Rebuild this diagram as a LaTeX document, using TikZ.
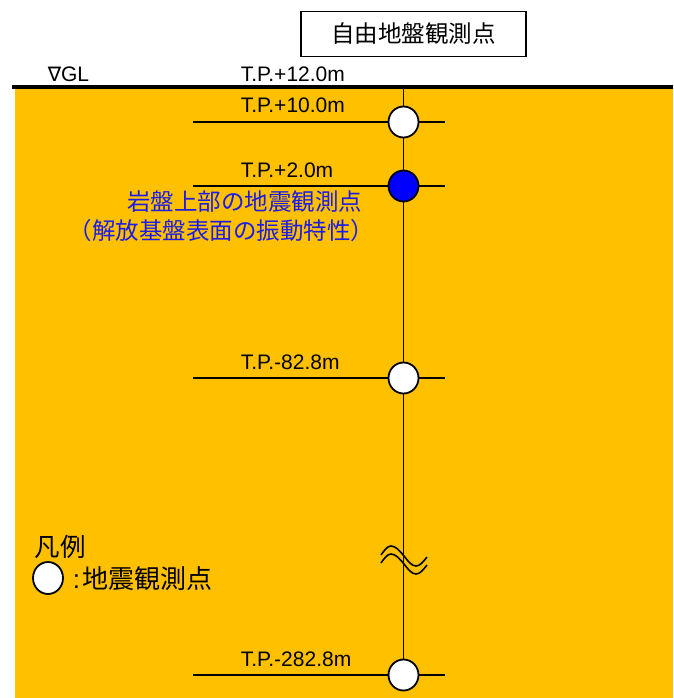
\documentclass[tikz,border=0pt]{standalone}
\usepackage{fontspec}
\setmainfont{Liberation Sans}
\newfontfamily\jpfont{Noto Sans CJK JP}
\newfontfamily\symfont{DejaVu Sans}
\usetikzlibrary{positioning, shapes.geometric}
\definecolor{cgold}{HTML}{FFC000}
\definecolor{cblue}{HTML}{0000FF}
\definecolor{cnote}{HTML}{1C1CE8}
\tikzset{
  every picture/.style={line width=1.5pt},
  obs/.style={draw=black, ellipse, fill=#1, minimum width=30pt, minimum height=31pt, inner sep=0pt, line width=1.8pt},
  obs/.default=white,
  level/.style={font=\fontsize{21}{24}\selectfont, anchor=base west, inner sep=0pt},
  jp/.style={font=\jpfont\fontsize{23.5}{29}\selectfont},
}

\begin{document}
\begin{tikzpicture}[x=1pt, y=-1pt]
  \useasboundingbox (0,0) rectangle (673,698);
  % ground
  \fill[cgold] (15,87) rectangle (673,698);
  \coordinate (gl-w) at (12,87);
  \coordinate (gl-e) at (673,87);
  \draw[line width=3.5pt] (gl-w) -- (gl-e);
  \node[level] (gl) at (47,82) {{\symfont\fontsize{20}{20}\selectfont ∇}GL};
  \node[level] (tp12) at (240,82) {T.P.+12.0m};
  % title
  \node[draw, line width=1.5pt, minimum width=225pt, minimum height=45pt, jp] (title) at (413.5,34) {自由地盤観測点};
  % borehole
  \coordinate (top) at (403.5,87);
  \coordinate (bot) at (403.5,675);
  \draw (top) -- (bot);
  \foreach \y/\t/\c [count=\i] in {122/+10.0/white, 186/+2.0/cblue, 378/-82.8/white, 675/-282.8/white} {
    \coordinate (l\i) at (193,\y);
    \coordinate (r\i) at (445,\y);
    \draw (l\i) -- (r\i);
    \node[obs=\c] (p\i) at (403.5,\y) {};
    \node[level] (t\i) at (240,\y-9) {T.P.\t m};
  }
  % break mark
  \foreach \d in {0,8}
    \draw[line width=1.6pt] (381,555+\d) sin (391,546+\d) cos (404,556+\d) sin (416,566+\d) cos (427,557+\d);
  % note
  \node[jp, text=cnote, align=right, anchor=north east, inner sep=0pt] (note) at (363,190) {岩盤上部の地震観測点\\（解放基盤表面の振動特性）\kern-0.5em};
  % legend
  \node[jp, anchor=base west, inner sep=0pt, font=\jpfont\fontsize{25.5}{29}\selectfont] (legend) at (34,556) {凡例};
  \node[obs, minimum height=32pt] (key) at (48,578) {};
  \node[jp, anchor=west, inner sep=0pt, font=\jpfont\fontsize{26}{29}\selectfont] (keytext) at (72,579) {\fontspec{Liberation Sans}:\kern3pt\jpfont 地震観測点};
\end{tikzpicture}
\end{document}
